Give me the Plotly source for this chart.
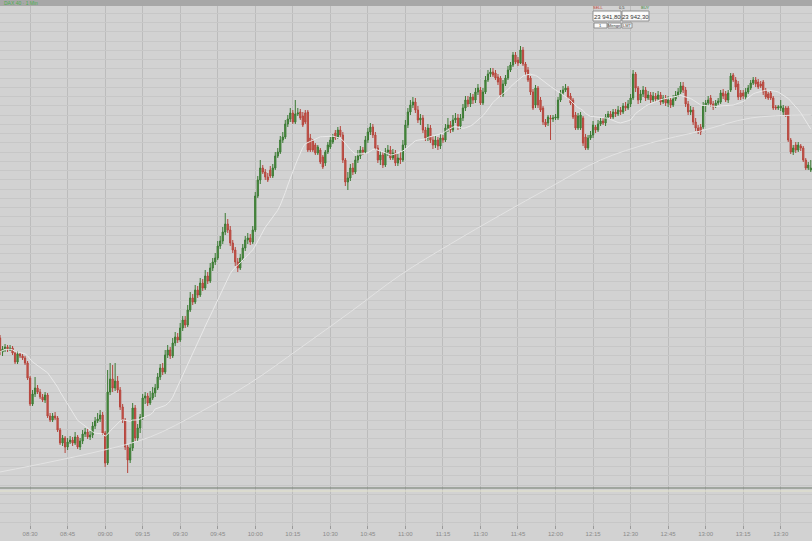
import pandas as pd
import plotly.graph_objects as go

# ---------------- data (1-minute candles, 08:18 .. 13:42) ----------------
session_start = "2025-06-02 08:18"

open_ = [
    23772, 23758, 23761, 23763, 23760, 23762, 23757, 23748, 23756, 23754, 23752, 23747, 23732, 23706, 23716,
    23722, 23718, 23713, 23710, 23715, 23694, 23690, 23694, 23692, 23680, 23667, 23672, 23663, 23668, 23670,
    23667, 23673, 23663, 23669, 23676, 23678, 23673, 23675, 23684, 23689, 23691, 23695, 23677, 23647, 23718,
    23731, 23722, 23729, 23720, 23703, 23690, 23663, 23650, 23662, 23702, 23672, 23682, 23693, 23712, 23714,
    23707, 23712, 23717, 23722, 23733, 23742, 23738, 23755, 23760, 23754, 23767, 23773, 23770, 23782, 23790,
    23785, 23800, 23812, 23808, 23820, 23815, 23827, 23822, 23834, 23829, 23842, 23848, 23852, 23864, 23869,
    23878, 23886, 23880, 23867, 23860, 23848, 23842, 23852, 23862, 23870, 23872, 23868, 23880, 23914, 23930,
    23942, 23938, 23933, 23940, 23934, 23942, 23954, 23958, 23970, 23973, 23986, 23991, 23997, 23988, 23996,
    23998, 23994, 23997, 23998, 23972, 23969, 23965, 23957, 23960, 23953, 23947, 23958, 23963, 23968, 23977,
    23973, 23980, 23975, 23950, 23928, 23932, 23942, 23938, 23950, 23954, 23960, 23958, 23970, 23978, 23983,
    23975, 23962, 23950, 23955, 23945, 23958, 23960, 23952, 23957, 23947, 23952, 23950, 23965, 23985, 23998,
    24005, 24008, 24000, 23990, 23992, 23980, 23972, 23982, 23970, 23965, 23970, 23964, 23972, 23970, 23982,
    23985, 23980, 23990, 23992, 23984, 23992, 24002, 24010, 24006, 24013, 24010, 24018, 24020, 24007, 24018,
    24030, 24036, 24038, 24037, 24033, 24032, 24015, 24026, 24032, 24040, 24045, 24055, 24050, 24047, 24060,
    24046, 24040, 24032, 24018, 24005, 24022, 24010, 24002, 23988, 23987, 23992, 23991, 23992, 23992, 24010,
    24017, 24020, 24022, 24014, 24010, 23995, 23982, 23982, 23992, 23973, 23962, 23972, 23975, 23983, 23980,
    23986, 23989, 23987, 23993, 23996, 23993, 23998, 23996, 24000, 23998, 24004, 24002, 24006, 24012, 24036,
    24022, 24010, 24016, 24020, 24012, 24015, 24010, 24014, 24011, 24015, 24008, 24012, 24007, 24010, 24005,
    24011, 24015, 24018, 24024, 24020, 24006, 23998, 24000, 23988, 23982, 23983, 23983, 24004, 24007, 24012,
    24006, 24004, 24007, 24008, 24017, 24016, 24010, 24020, 24035, 24030, 24026, 24017, 24017, 24013, 24018,
    24022, 24027, 24030, 24028, 24026, 24028, 24020, 24016, 24017, 24012, 24003, 24002, 24002, 23998, 24002,
    24002, 23970, 23958, 23965, 23960, 23964, 23962, 23950, 23942, 23940,
]
high_ = [
    23775, 23764, 23766, 23765, 23765, 23764, 23759, 23759, 23758, 23756, 23754, 23749, 23734, 23720, 23733,
    23725, 23721, 23716, 23718, 23717, 23697, 23697, 23698, 23694, 23682, 23675, 23674, 23672, 23674, 23673,
    23678, 23675, 23672, 23680, 23682, 23681, 23679, 23688, 23693, 23697, 23700, 23698, 23679, 23740, 23747,
    23745, 23747, 23734, 23723, 23706, 23692, 23665, 23667, 23707, 23705, 23686, 23696, 23716, 23718, 23717,
    23719, 23723, 23726, 23737, 23746, 23747, 23760, 23765, 23763, 23772, 23778, 23777, 23787, 23794, 23794,
    23805, 23818, 23816, 23825, 23824, 23832, 23831, 23840, 23838, 23847, 23852, 23857, 23869, 23874, 23883,
    23897, 23891, 23884, 23870, 23863, 23852, 23856, 23866, 23874, 23877, 23876, 23884, 23918, 23934, 23950,
    23945, 23941, 23937, 23944, 23946, 23958, 23962, 23974, 23978, 23990, 23995, 24002, 24000, 24010, 24002,
    24001, 23998, 24000, 24000, 23976, 23971, 23967, 23965, 23962, 23955, 23960, 23968, 23973, 23976, 23980,
    23983, 23984, 23978, 23952, 23938, 23946, 23947, 23954, 23960, 23964, 23963, 23974, 23982, 23987, 23986,
    23978, 23965, 23959, 23958, 23962, 23965, 23964, 23961, 23960, 23956, 23958, 23970, 23990, 24002, 24010,
    24013, 24012, 24004, 23996, 23995, 23983, 23986, 23985, 23974, 23974, 23973, 23976, 23975, 23986, 23992,
    23989, 23995, 23997, 23996, 23996, 24006, 24014, 24014, 24017, 24016, 24022, 24026, 24023, 24022, 24034,
    24040, 24042, 24042, 24040, 24036, 24034, 24030, 24035, 24044, 24048, 24058, 24058, 24053, 24064, 24063,
    24048, 24043, 24034, 24021, 24025, 24024, 24013, 24004, 23991, 23995, 23995, 23995, 23996, 24013, 24020,
    24024, 24026, 24024, 24017, 24012, 23998, 23997, 23998, 23994, 23976, 23975, 23979, 23989, 23985, 23990,
    23992, 23992, 23996, 23999, 23999, 24001, 24001, 24004, 24003, 24007, 24008, 24010, 24016, 24040, 24038,
    24024, 24020, 24024, 24023, 24019, 24018, 24018, 24017, 24019, 24018, 24015, 24015, 24014, 24013, 24015,
    24019, 24022, 24028, 24028, 24023, 24009, 24004, 24003, 23992, 23985, 23986, 24008, 24010, 24014, 24015,
    24009, 24010, 24012, 24020, 24021, 24019, 24020, 24037, 24037, 24033, 24029, 24020, 24020, 24022, 24025,
    24030, 24033, 24033, 24031, 24029, 24030, 24022, 24018, 24019, 24014, 24005, 24005, 24010, 24005, 24004,
    24004, 23972, 23965, 23968, 23968, 23966, 23964, 23952, 23948, 23950,
]
low_ = [
    23755, 23754, 23758, 23758, 23759, 23755, 23746, 23746, 23752, 23750, 23745, 23730, 23704, 23704, 23713,
    23716, 23711, 23708, 23707, 23692, 23688, 23688, 23690, 23678, 23665, 23664, 23657, 23660, 23666, 23664,
    23665, 23661, 23660, 23666, 23673, 23671, 23670, 23672, 23681, 23687, 23688, 23675, 23643, 23645, 23715,
    23718, 23719, 23717, 23700, 23687, 23660, 23637, 23647, 23659, 23669, 23669, 23677, 23690, 23706, 23704,
    23705, 23710, 23713, 23720, 23730, 23735, 23736, 23752, 23751, 23752, 23764, 23767, 23768, 23779, 23782,
    23783, 23798, 23805, 23806, 23812, 23813, 23819, 23820, 23826, 23827, 23839, 23845, 23850, 23861, 23866,
    23875, 23877, 23864, 23857, 23844, 23838, 23840, 23849, 23859, 23866, 23865, 23866, 23878, 23912, 23926,
    23936, 23930, 23928, 23932, 23932, 23940, 23952, 23956, 23967, 23971, 23983, 23988, 23986, 23986, 23994,
    23990, 23983, 23986, 23958, 23958, 23958, 23955, 23955, 23946, 23941, 23944, 23956, 23961, 23966, 23970,
    23971, 23973, 23947, 23924, 23920, 23929, 23935, 23936, 23947, 23951, 23955, 23956, 23967, 23975, 23972,
    23960, 23947, 23945, 23942, 23943, 23954, 23950, 23950, 23944, 23944, 23946, 23948, 23962, 23982, 23995,
    24002, 23997, 23987, 23985, 23977, 23969, 23969, 23967, 23961, 23962, 23960, 23961, 23967, 23968, 23978,
    23977, 23978, 23987, 23980, 23981, 23989, 23999, 24003, 24003, 24006, 24007, 24015, 24005, 24005, 24016,
    24028, 24033, 24033, 24030, 24025, 24013, 24013, 24024, 24030, 24038, 24043, 24046, 24044, 24046, 24044,
    24035, 24028, 24015, 24000, 24002, 24002, 23998, 23985, 23983, 23984, 23970, 23988, 23990, 23990, 24008,
    24015, 24018, 24011, 24005, 23991, 23980, 23980, 23980, 23964, 23960, 23960, 23970, 23972, 23977, 23978,
    23984, 23985, 23984, 23991, 23991, 23991, 23993, 23994, 23995, 23996, 23999, 24000, 24003, 24010, 24018,
    24006, 24007, 24013, 24009, 24010, 24007, 24008, 24008, 24009, 24005, 24006, 24004, 24003, 24002, 24003,
    24009, 24013, 24016, 24017, 24003, 23995, 23995, 23985, 23979, 23976, 23975, 23981, 23998, 24004, 24003,
    24000, 24002, 24005, 24006, 24011, 24008, 24007, 24018, 24028, 24020, 24010, 24010, 24011, 24010, 24016,
    24020, 24025, 24023, 24021, 24022, 24015, 24011, 24010, 24010, 24000, 24000, 24000, 23999, 23995, 23993,
    23968, 23956, 23955, 23957, 23958, 23959, 23948, 23940, 23940, 23938,
]
close_ = [
    23758, 23761, 23763, 23760, 23762, 23757, 23748, 23756, 23754, 23752, 23747, 23732, 23706, 23716, 23722,
    23718, 23713, 23710, 23715, 23694, 23690, 23694, 23692, 23680, 23667, 23672, 23663, 23668, 23670, 23667,
    23673, 23663, 23669, 23676, 23678, 23673, 23675, 23684, 23689, 23691, 23695, 23677, 23647, 23718, 23731,
    23722, 23729, 23720, 23703, 23690, 23663, 23650, 23662, 23702, 23672, 23682, 23693, 23712, 23714, 23707,
    23712, 23717, 23722, 23733, 23742, 23738, 23755, 23760, 23754, 23767, 23773, 23770, 23782, 23790, 23785,
    23800, 23812, 23808, 23820, 23815, 23827, 23822, 23834, 23829, 23842, 23848, 23852, 23864, 23869, 23878,
    23886, 23880, 23867, 23860, 23848, 23842, 23852, 23862, 23870, 23872, 23868, 23880, 23914, 23930, 23942,
    23938, 23933, 23930, 23934, 23942, 23954, 23958, 23970, 23973, 23986, 23991, 23997, 23988, 23996, 23997,
    23992, 23985, 23988, 23960, 23960, 23960, 23957, 23963, 23948, 23943, 23958, 23965, 23970, 23973, 23972,
    23980, 23975, 23950, 23928, 23932, 23942, 23938, 23950, 23954, 23960, 23958, 23970, 23978, 23983, 23975,
    23962, 23950, 23955, 23945, 23958, 23960, 23952, 23957, 23947, 23952, 23950, 23965, 23985, 23998, 24005,
    24008, 24000, 23990, 23992, 23980, 23972, 23982, 23970, 23965, 23970, 23964, 23972, 23970, 23982, 23985,
    23980, 23990, 23992, 23984, 23992, 24002, 24010, 24006, 24013, 24010, 24018, 24022, 24007, 24018, 24030,
    24036, 24038, 24035, 24032, 24028, 24015, 24026, 24032, 24040, 24045, 24055, 24048, 24047, 24060, 24046,
    24038, 24030, 24018, 24002, 24022, 24005, 24000, 23988, 23985, 23993, 23991, 23992, 23993, 24010, 24017,
    24020, 24022, 24013, 24007, 23993, 23982, 23994, 23995, 23967, 23962, 23972, 23975, 23985, 23980, 23986,
    23989, 23987, 23993, 23996, 23993, 23998, 23996, 24000, 23998, 24004, 24002, 24006, 24012, 24036, 24022,
    24010, 24016, 24020, 24012, 24015, 24010, 24014, 24011, 24015, 24008, 24012, 24007, 24010, 24005, 24011,
    24015, 24018, 24024, 24020, 24006, 23998, 24000, 23988, 23982, 23979, 23978, 24004, 24007, 24010, 24006,
    24003, 24007, 24009, 24017, 24014, 24010, 24017, 24034, 24030, 24023, 24013, 24013, 24014, 24018, 24022,
    24027, 24030, 24026, 24023, 24024, 24018, 24013, 24012, 24012, 24002, 24002, 24003, 24004, 24002, 23995,
    23970, 23958, 23962, 23960, 23965, 23962, 23950, 23942, 23945, 23942,
]

long_ma_times = ["08:18", "08:38", "08:58", "09:18", "09:38", "09:58", "10:18", "10:38", "10:58",
                 "11:18", "11:38", "11:58", "12:18", "12:38", "12:58", "13:18", "13:42"]
long_ma = [23638, 23648, 23659, 23673, 23698, 23727, 23762, 23798, 23835,
           23866, 23895, 23923, 23950, 23967, 23979, 23992, 23995]

short_ma_period = 20
tick_labels = ["08:30", "08:45", "09:00", "09:15", "09:30", "09:45", "10:00", "10:15", "10:30",
               "10:45", "11:00", "11:15", "11:30", "11:45", "12:00", "12:15", "12:30", "12:45",
               "13:00", "13:15", "13:30"]
ref_level = 23622
bid_text = "23 941,80"
ask_text = "23 942,30"
header_text = "DAX 40 · 1 Min"

# ---------------- build figure ----------------
day = session_start.split(" ")[0]
times = pd.date_range(session_start, periods=len(close_), freq="1min")
short_ma = pd.Series(close_).rolling(short_ma_period, min_periods=1).mean()
tick_vals = [f"{day} {t}" for t in tick_labels]
lma_x = [f"{day} {t}" for t in long_ma_times]

W, H = 812, 541
M_T, M_B = 6, 12
PLOT_H = H - M_T - M_B


def px(x):
    return x / W


def py(y):
    return (H - M_B - y) / PLOT_H


fig = go.Figure()
fig.add_trace(go.Scatter(x=lma_x, y=long_ma, mode="lines", line=dict(color="#e3e3e3", width=1, shape="spline"),
                         hoverinfo="skip", showlegend=False))
fig.add_trace(go.Scatter(x=times, y=short_ma, mode="lines", line=dict(color="#e9e9e9", width=1),
                         hoverinfo="skip", showlegend=False))
fig.add_trace(go.Candlestick(
    x=times, open=open_, high=high_, low=low_, close=close_,
    increasing=dict(line=dict(color="#3b7a33", width=1), fillcolor="#4d9441"),
    decreasing=dict(line=dict(color="#b5453c", width=1), fillcolor="#cf5a4d"),
    whiskerwidth=0, showlegend=False,
))

shapes = [
    dict(type="rect", xref="paper", yref="paper", x0=0, x1=1, y0=py(M_T), y1=py(0),
         fillcolor="#a7a7a7", line=dict(width=0), layer="above"),
    dict(type="line", xref="paper", yref="y", x0=0, x1=1, y0=ref_level, y1=ref_level,
         line=dict(color="#6f7a6c", width=1)),
    dict(type="line", xref="paper", yref="y", x0=0, x1=1, y0=ref_level - 3, y1=ref_level - 3,
         line=dict(color="#e4e4cc", width=1)),
]
# order-ticket widget (top right)
for (x0, x1, y0, y1) in [(593, 621, 11, 21), (622, 649, 11, 21), (594, 607, 23, 28), (608, 621, 23, 28),
                         (622, 632, 23, 28)]:
    shapes.append(dict(type="rect", xref="paper", yref="paper", x0=px(x0), x1=px(x1), y0=py(y1), y1=py(y0),
                       fillcolor="#fafafa", line=dict(color="#8f8f8f", width=1), layer="above"))

ann = []
def text(x, y, s, size, color, anchor="center"):
    ann.append(dict(x=px(x), y=py(y), xref="paper", yref="paper", text=s, showarrow=False,
                    xanchor=anchor, yanchor="middle", font=dict(size=size, color=color, family="Liberation Sans")))

text(2, 3, header_text, 5, "#4caf50", "left")
text(607, 16.5, bid_text, 6, "#333333")
text(635.5, 16.5, ask_text, 6, "#333333")
text(598, 7.5, "SELL", 4, "#c0392b")
text(621.5, 7.5, "0,5", 4, "#333333")
text(645, 7.5, "BUY", 4, "#2e7d32")
text(600.5, 25.7, "1", 4, "#333333")
text(614.5, 25.7, "Menge", 4, "#333333")
text(627, 25.7, "LMT", 4, "#333333")

fig.update_layout(
    width=W, height=H, margin=dict(l=0, r=0, t=M_T, b=M_B),
    paper_bgcolor="#d2d2d2", plot_bgcolor="#d2d2d2",
    shapes=shapes, annotations=ann, showlegend=False,
    xaxis=dict(type="date", range=[f"{day} 08:17:59", f"{day} 13:42:30"], rangeslider=dict(visible=False),
               tickvals=tick_vals, ticktext=tick_labels, showgrid=True, gridcolor="#bcbcbc", gridwidth=1,
               ticks="inside", ticklen=3, tickcolor="#9a9a9a", tickfont=dict(size=6, color="#8a8a8a",
               family="Liberation Sans"), zeroline=False, showline=False, fixedrange=True),
    yaxis=dict(showticklabels=False, showgrid=True, gridcolor="#c7c7c7", gridwidth=1,
               zeroline=False, fixedrange=True),
)
# price range: 1 point per pixel, top of plot = 24104
fig.update_yaxes(range=[24110 - (H - M_B), 24110 - M_T], dtick=9.25, tick0=24096.7)

fig.write_html("out.html", config={"displayModeBar": False},
               post_script="document.body.style.margin='0';document.body.style.background='#d2d2d2';")
